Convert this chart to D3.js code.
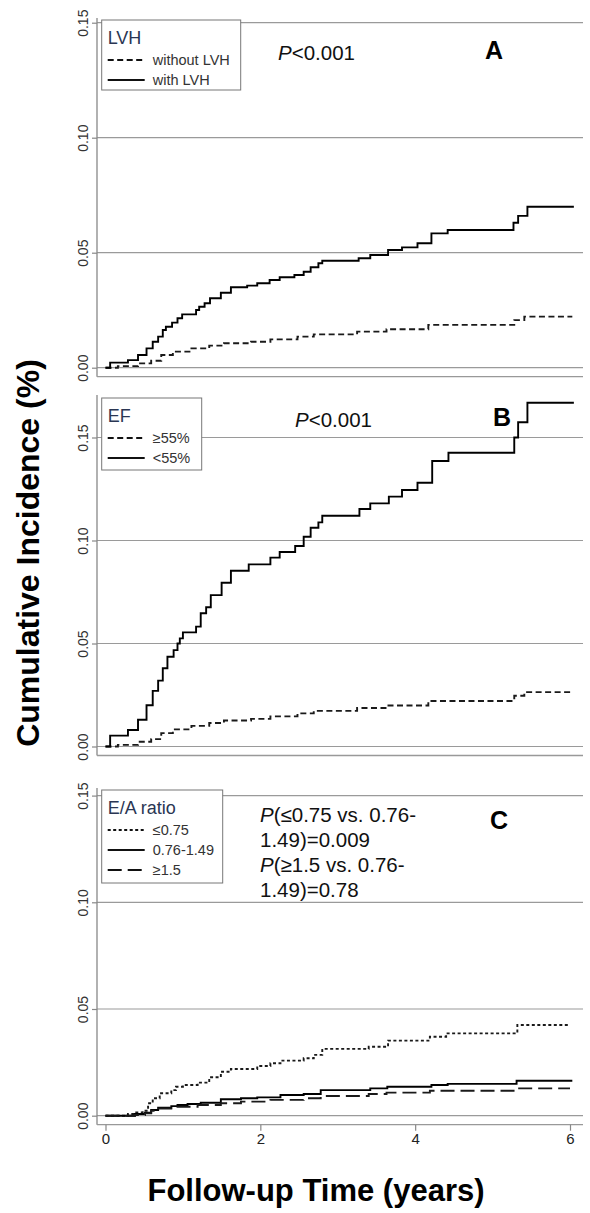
<!DOCTYPE html>
<html>
<head>
<meta charset="utf-8">
<script src="https://cdn.jsdelivr.net/npm/d3@7"></script>
<style>
  body { margin: 0; background: #fff; }
  svg { display: block; font-family: Arial, "Liberation Sans", sans-serif; }
</style>
</head>
<body>
<div id="chart"></div>
<script>
// axis ticks
var years = [0, 2, 4, 6]
var yTicks = [0, 0.05, 0.10, 0.15]

// panel A - LVH  [years, cumulative incidence]
var aWithout = [[0,0],[0.16,0.0007],[0.42,0.0019],[0.59,0.003],[0.72,0.0055],[0.87,0.007],[1.11,0.0084],[1.34,0.0096],[1.53,0.0106],[1.88,0.0113],[2.13,0.0123],[2.48,0.0135],[2.69,0.0145],[3.25,0.0157],[3.63,0.0167],[4.17,0.0186],[5.28,0.0207],[5.41,0.0222],[6.03,0.0222]]
var aWith = [[0,0],[0.06,0.0022],[0.29,0.0033],[0.42,0.0055],[0.53,0.0084],[0.61,0.0113],[0.68,0.0135],[0.74,0.0164],[0.78,0.0178],[0.86,0.0196],[0.93,0.0215],[0.99,0.0232],[1.17,0.0251],[1.21,0.0265],[1.28,0.028],[1.35,0.0302],[1.49,0.0326],[1.62,0.035],[1.83,0.0357],[1.96,0.0367],[2.12,0.0381],[2.25,0.0393],[2.44,0.0403],[2.56,0.0417],[2.65,0.0437],[2.75,0.0454],[2.80,0.0465],[3.27,0.0476],[3.42,0.049],[3.65,0.0512],[3.83,0.0523],[4.03,0.0541],[4.21,0.0584],[4.42,0.0599],[5.27,0.063],[5.33,0.066],[5.45,0.070],[6.05,0.070]]

// panel B - EF
var bHigh = [[0,0],[0.16,0.0008],[0.42,0.0023],[0.59,0.0036],[0.72,0.0065],[0.87,0.0083],[1.11,0.0100],[1.34,0.0114],[1.53,0.0126],[1.88,0.0134],[2.13,0.0146],[2.48,0.0161],[2.69,0.0173],[3.25,0.0187],[3.63,0.0199],[4.17,0.0221],[5.28,0.0246],[5.41,0.0264],[6.03,0.0264]]
var bLow = [[0,0],[0.06,0.0053],[0.29,0.008],[0.42,0.013],[0.53,0.020],[0.61,0.027],[0.68,0.032],[0.74,0.038],[0.80,0.0436],[0.88,0.0468],[0.93,0.050],[0.96,0.0525],[1.0,0.0554],[1.17,0.0582],[1.23,0.0647],[1.30,0.0676],[1.36,0.0735],[1.50,0.0795],[1.62,0.0853],[1.85,0.0884],[2.13,0.0917],[2.25,0.0944],[2.45,0.0973],[2.56,0.1018],[2.65,0.1062],[2.75,0.1088],[2.80,0.112],[3.28,0.1153],[3.42,0.118],[3.66,0.1213],[3.83,0.1245],[4.03,0.128],[4.22,0.1386],[4.43,0.1426],[5.28,0.150],[5.33,0.1574],[5.45,0.1669],[6.05,0.1669]]

// panel C - E/A ratio
var cLow = [[0,0],[0.29,0.0008],[0.38,0.0015],[0.48,0.0023],[0.55,0.0058],[0.61,0.0082],[0.70,0.0105],[0.85,0.012],[0.91,0.0136],[1.0,0.0144],[1.19,0.0155],[1.34,0.018],[1.49,0.0206],[1.62,0.0219],[1.96,0.0233],[2.13,0.0246],[2.26,0.0258],[2.56,0.0269],[2.69,0.0285],[2.80,0.0313],[3.40,0.0323],[3.65,0.0352],[4.19,0.037],[4.40,0.0386],[5.32,0.0425],[6.0,0.0425]]
var cMid = [[0,0],[0.38,0.0008],[0.51,0.0014],[0.59,0.0027],[0.68,0.0038],[0.85,0.0045],[0.93,0.005],[1.06,0.0055],[1.23,0.0061],[1.49,0.0077],[1.75,0.0082],[1.96,0.0086],[2.26,0.0097],[2.56,0.0102],[2.78,0.012],[3.42,0.0128],[3.64,0.0136],[4.21,0.0144],[4.42,0.0149],[5.31,0.0164],[6.03,0.0164]]
var cHigh = [[0,0],[0.38,0.0003],[0.51,0.0011],[0.59,0.0023],[0.68,0.0034],[0.93,0.0042],[1.19,0.005],[1.49,0.0058],[1.75,0.0066],[2.13,0.0074],[2.56,0.0082],[2.78,0.0092],[3.40,0.0102],[3.63,0.0108],[4.19,0.0117],[5.31,0.0128],[6.0,0.0128]]

var W = 590, H = 1213
var axisX = 97, rightX = 583

var svg = d3.select("#chart").append("svg")
    .attr("width", W)
    .attr("height", H)

var x = d3.scaleLinear().domain([0, 6]).range([105.5, 570])

var solid = null, shortDash = "6,3.5", longDash = "14,6", dots = "3,2.5"

var panels = [
  { top: 18, bottom: 376.7, y0: 367.7, y15: 22.7,
    legend: { x: 101.7, y: 20, w: 139, h: 70, title: "LVH",
      items: [["without LVH", shortDash], ["with LVH", solid]] },
    series: [[aWithout, shortDash], [aWith, solid]],
    letter: { t: "A", x: 485, y: 59 },
    ptext: { x: 278, y: 60, lines: [["P", "<0.001"]] } },
  { top: 395, bottom: 755.5, y0: 746.5, y15: 437.5,
    legend: { x: 101.7, y: 398, w: 100, h: 72, title: "EF",
      items: [["\u226555%", shortDash], ["<55%", solid]] },
    series: [[bHigh, shortDash], [bLow, solid]],
    letter: { t: "B", x: 493, y: 426 },
    ptext: { x: 295, y: 427, lines: [["P", "<0.001"]] } },
  { top: 788, bottom: 1124.7, y0: 1115.7, y15: 795.6,
    legend: { x: 101.7, y: 790, w: 121, h: 93, title: "E/A ratio",
      items: [["\u22640.75", dots], ["0.76-1.49", solid], ["\u22651.5", longDash]] },
    series: [[cLow, dots], [cMid, solid], [cHigh, longDash]],
    letter: { t: "C", x: 490, y: 829 },
    ptext: { x: 260, y: 822, lines: [["P", "(\u22640.75 vs. 0.76-"], ["", "1.49)=0.009"], ["P", "(\u22651.5 vs. 0.76-"], ["", "1.49)=0.78"]] } }
]

panels.forEach(function(p, pi) {
  var y = d3.scaleLinear().domain([0, 0.15]).range([p.y0, p.y15])
  var g = svg.append("g")

  // gridlines
  g.selectAll(".grid").data(yTicks).enter().append("line")
      .attr("x1", axisX)
      .attr("x2", rightX)
      .attr("y1", function(d) { return y(d) })
      .attr("y2", function(d) { return y(d) })
      .style("stroke", "#9a9a9a")
      .style("stroke-width", 1.2)

  // y axis
  var yAxis = g.append("g")
      .attr("transform", "translate(" + axisX + ",0)")
      .call(d3.axisLeft(y).tickValues(yTicks).tickSize(5).tickFormat(d3.format(".2f")))
  yAxis.select(".domain").remove()
  yAxis.selectAll(".tick line").style("stroke", "#888").style("stroke-width", 1.2)
  yAxis.selectAll(".tick text")
      .attr("transform", "rotate(-90)")
      .attr("x", 0)
      .attr("y", -9)
      .attr("dy", 0)
      .attr("text-anchor", "middle")
      .style("font-size", "14px")
      .style("font-family", "Arial, 'Liberation Sans', sans-serif")
      .attr("fill", "#333")

  g.append("line")
      .attr("x1", axisX).attr("x2", axisX)
      .attr("y1", p.top).attr("y2", p.bottom)
      .style("stroke", "#888").style("stroke-width", 1.3)
  g.append("line")
      .attr("x1", axisX).attr("x2", rightX)
      .attr("y1", p.bottom).attr("y2", p.bottom)
      .style("stroke", "#999").style("stroke-width", 1.3)

  // curves
  var line = d3.line()
      .x(function(d) { return x(d[0]) })
      .y(function(d) { return y(d[1]) })
      .curve(d3.curveStepAfter)

  p.series.forEach(function(s) {
    g.append("path")
        .datum(s[0])
        .attr("d", line)
        .attr("fill", "none")
        .style("stroke", s[1] ? "#1a1a1a" : "#000")
        .style("stroke-width", 1.9)
        .style("stroke-dasharray", s[1] ? s[1] : null)
  })

  // legend
  var L = p.legend
  g.append("rect")
      .attr("x", L.x).attr("y", L.y)
      .attr("width", L.w).attr("height", L.h)
      .attr("fill", "#fff")
      .style("stroke", "#777").style("stroke-width", 1)
  g.append("text")
      .attr("x", L.x + 6)
      .attr("y", L.y + 24)
      .text(L.title)
      .style("font-size", "18px")
      .attr("fill", "#2a3653")
  L.items.forEach(function(it, i) {
    var yy = L.y + 40 + i * 20
    g.append("line")
        .attr("x1", L.x + 6).attr("x2", L.x + 43)
        .attr("y1", yy).attr("y2", yy)
        .style("stroke", "#111").style("stroke-width", 1.8)
        .style("stroke-dasharray", it[1] ? it[1] : null)
    g.append("text")
        .attr("x", L.x + 51)
        .attr("y", yy + 5)
        .text(it[0])
        .style("font-size", "14.5px")
        .attr("fill", "#333")
  })

  // p values
  p.ptext.lines.forEach(function(ln, i) {
    var t = g.append("text")
        .attr("x", p.ptext.x)
        .attr("y", p.ptext.y + i * 25)
        .style("font-size", "20.5px")
        .attr("fill", "#111")
    if (ln[0]) t.append("tspan").style("font-style", "italic").text(ln[0])
    t.append("tspan").text(ln[1])
  })

  // panel letter
  g.append("text")
      .attr("x", p.letter.x)
      .attr("y", p.letter.y)
      .text(p.letter.t)
      .style("font-size", "25px")
      .style("font-weight", "bold")
      .attr("fill", "#000")

  // x axis only on the last panel
  if (pi == panels.length - 1) {
    var xAxis = g.append("g")
        .attr("transform", "translate(0," + p.bottom + ")")
        .call(d3.axisBottom(x).tickValues(years).tickSize(6).tickFormat(d3.format("d")))
    xAxis.select(".domain").remove()
    xAxis.selectAll(".tick line").style("stroke", "#888").style("stroke-width", 1.2)
    xAxis.selectAll(".tick text")
        .attr("y", 9)
        .attr("dy", "0.71em")
        .style("font-size", "15px")
        .style("font-family", "Arial, 'Liberation Sans', sans-serif")
        .attr("fill", "#222")
  }
})

// axis titles
svg.append("text")
    .attr("transform", "translate(39,553) rotate(-90)")
    .attr("text-anchor", "middle")
    .text("Cumulative Incidence (%)")
    .style("font-size", "32px")
    .style("font-weight", "bold")
    .attr("fill", "#000")

svg.append("text")
    .attr("x", 316)
    .attr("y", 1201)
    .attr("text-anchor", "middle")
    .text("Follow-up Time (years)")
    .style("font-size", "31px")
    .style("font-weight", "bold")
    .attr("fill", "#000")
</script>
</body>
</html>
